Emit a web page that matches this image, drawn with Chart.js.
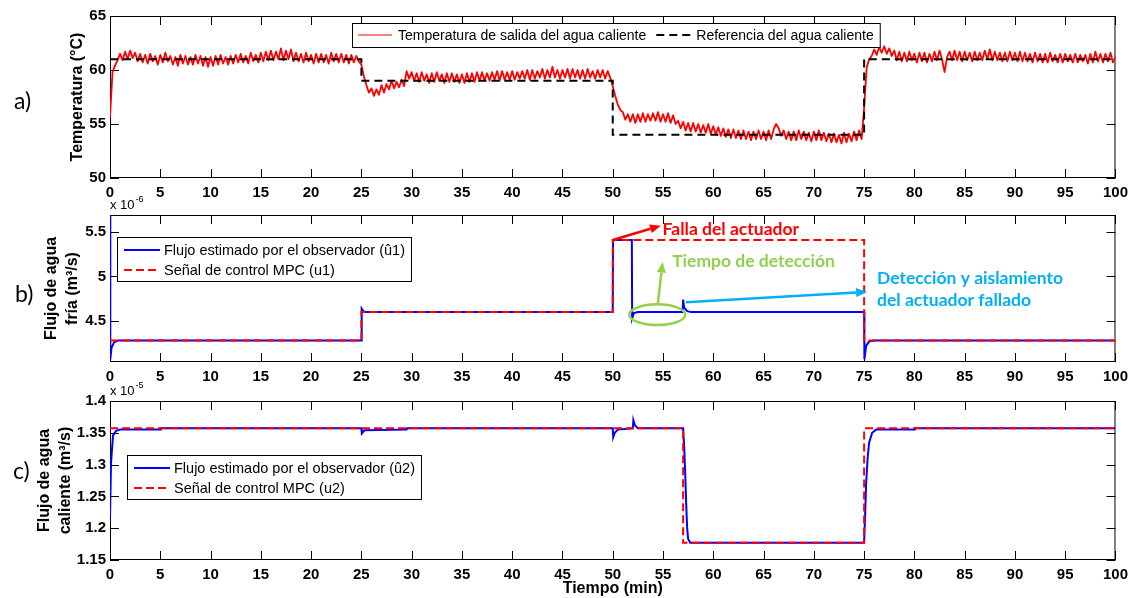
<!DOCTYPE html>
<html>
<head>
<meta charset="utf-8">
<script src="https://cdn.jsdelivr.net/npm/chart.js@4.4.0/dist/chart.umd.min.js"></script>
<style>
  body { margin: 0; background: #fff; }
  #lienzo { position: relative; width: 1134px; height: 598px; overflow: hidden; }
  #lienzo canvas { position: absolute; left: 0; }
</style>
</head>
<body>
<div id="lienzo">
  <canvas id="panelA" width="1134" height="200" style="top:0px"></canvas>
  <canvas id="panelB" width="1134" height="198" style="top:186px"></canvas>
  <canvas id="panelC" width="1134" height="222" style="top:376px"></canvas>
</div>
<script>
// ---------- datos ----------
const ticksX = [0, 5, 10, 15, 20, 25, 30, 35, 40, 45, 50, 55, 60, 65, 70, 75, 80, 85, 90, 95, 100];
const ticksTemp = [50, 55, 60, 65];
const ticksU1 = [4.5, 5, 5.5];
const ticksU2 = [1.15, 1.2, 1.25, 1.3, 1.35, 1.4];

// a) temperatura, muestreada cada 0.25 min (una fila = 4 min)
const pasoTemp = 0.25;
const tempSalida = [
  55.6, 59.8, 60.4, 60.9,  61.5, 60.9, 61.7, 61.0,  61.8, 61.1, 61.6, 60.8,  61.5, 60.7, 61.4, 60.6,
  61.5, 60.8, 61.3, 60.5,  61.4, 60.7, 61.6, 60.8,  61.3, 60.5, 61.2, 60.4,  61.4, 60.6, 61.3, 60.5,
  61.2, 60.5, 61.4, 60.6,  61.3, 60.4, 61.2, 60.3,  61.2, 60.4, 61.3, 60.5,  61.4, 60.6, 61.2, 60.5,
  61.3, 60.6, 61.4, 60.7,  61.5, 60.7, 61.3, 60.6,  61.6, 60.8, 61.4, 60.7,  61.6, 60.8, 61.7, 60.9,
  61.8, 60.9, 61.7, 61.0,  62.0, 60.9, 61.8, 61.0,  61.9, 60.8, 61.6, 60.8,  61.5, 60.7, 61.6, 60.8,
  61.4, 60.6, 61.5, 60.7,  61.5, 60.7, 61.4, 60.6,  61.6, 60.8, 61.5, 60.7,  61.5, 60.7, 61.4, 60.6,
  61.4, 60.7, 61.3, 60.8,  60.5, 59.4, 58.6, 57.9,  58.3, 57.6, 58.2, 57.7,  58.6, 57.9, 58.7, 58.2,
  59.0, 58.3, 58.9, 58.4,  59.1, 58.5, 59.9, 59.2,  59.8, 59.0, 59.7, 58.9,  59.8, 59.0, 59.6, 58.8,
  59.7, 58.9, 59.8, 59.0,  59.6, 58.8, 59.7, 58.9,  59.7, 58.9, 59.6, 58.8,  59.6, 58.8, 59.7, 58.9,
  59.7, 58.9, 59.8, 59.0,  59.8, 59.0, 59.7, 59.0,  59.8, 59.1, 59.9, 59.0,  59.9, 59.1, 59.8, 59.1,
  59.9, 59.1, 59.8, 59.2,  59.9, 59.2, 60.0, 59.1,  60.0, 59.2, 59.9, 59.3,  60.1, 59.2, 60.0, 59.3,
  60.3, 59.3, 60.0, 59.2,  60.0, 59.3, 60.1, 59.2,  60.1, 59.3, 60.0, 59.2,  60.0, 59.2, 60.1, 59.3,
  59.9, 59.2, 60.0, 59.3,  60.0, 59.2, 59.9, 59.3,  58.5, 57.6, 56.8, 56.3,  56.1, 55.4, 55.9, 55.2,
  55.9, 55.1, 55.9, 55.2,  56.0, 55.2, 55.9, 55.3,  56.0, 55.3, 56.1, 55.2,  55.9, 55.2, 56.0, 55.1,
  55.8, 55.0, 55.3, 54.6,  55.2, 54.4, 55.1, 54.3,  55.1, 54.3, 55.0, 54.2,  54.9, 54.2, 55.0, 54.1,
  54.8, 54.0, 54.7, 53.9,  54.6, 53.8, 54.5, 53.7,  54.5, 53.7, 54.4, 53.6,  54.4, 53.6, 54.3, 53.5,
  54.3, 53.6, 54.4, 53.6,  54.3, 53.5, 54.4, 53.6,  54.5, 55.0, 54.6, 53.9,  54.4, 53.6, 54.3, 53.5,
  54.3, 53.5, 54.4, 53.6,  54.3, 53.5, 54.2, 53.4,  54.3, 53.5, 54.4, 53.5,  54.2, 53.4, 54.1, 53.3,
  54.1, 53.3, 54.0, 53.2,  54.2, 53.3, 54.1, 53.4,  54.3, 53.5, 54.4, 53.6,  56.5, 60.2, 61.0, 61.3,
  61.9, 61.4, 62.1, 61.6,  62.2, 61.5, 62.0, 61.3,  61.8, 60.9, 61.7, 60.8,  61.6, 60.8, 61.7, 60.9,
  61.5, 60.7, 61.6, 60.8,  61.6, 60.7, 61.5, 60.8,  61.7, 60.9, 61.8, 61.0,  59.8, 61.2, 61.7, 60.9,
  61.8, 60.9, 61.7, 60.8,  61.7, 60.9, 61.6, 60.8,  61.7, 60.9, 61.6, 60.9,  61.8, 61.0, 61.9, 60.9,
  61.7, 60.9, 61.6, 60.8,  61.6, 60.8, 61.7, 60.9,  61.6, 60.8, 61.7, 60.8,  61.6, 60.8, 61.5, 60.7,
  61.6, 60.8, 61.5, 60.7,  61.5, 60.7, 61.6, 60.8,  61.4, 60.7, 61.5, 60.7,  61.5, 60.8, 61.4, 60.7,
  61.5, 60.7, 61.4, 60.8,  61.4, 60.6, 61.5, 60.7,  61.7, 60.8, 61.5, 60.7,  61.5, 60.8, 61.6, 60.7,
  61.2
];
const tiempoRef = [0, 25, 25, 50, 50, 75, 75, 100];
const refTemp = [61, 61, 59, 59, 54, 54, 61, 61];

// b) flujo de agua fria (x 1e-6)
const tiempoMpc1 = [0, 25, 25, 50, 50, 75, 75, 100];
const mpcU1 = [4.28, 4.28, 4.6, 4.6, 5.41, 5.41, 4.28, 4.28];
const tiempoObs1 = [0, 0.03, 0.15, 0.4, 0.8, 25, 25.03, 25.2, 25.5, 50, 50.03, 51.9, 51.93, 52.1, 52.5,
  56.95, 57.0, 57.1, 57.4, 57.8, 75, 75.03, 75.2, 75.5, 76, 100];
const obsU1 = [5.75, 4.07, 4.2, 4.26, 4.28, 4.28, 4.64, 4.61, 4.6, 4.6, 5.41, 5.41, 4.53, 4.59, 4.6,
  4.6, 4.74, 4.65, 4.61, 4.6, 4.6, 4.07, 4.22, 4.27, 4.28, 4.28];

// c) flujo de agua caliente (x 1e-5)
const tiempoMpc2 = [0, 57, 57, 75, 75, 100];
const mpcU2 = [1.357, 1.357, 1.177, 1.177, 1.357, 1.357];
const tiempoObs2 = [0, 0.1, 0.3, 0.6, 1, 5, 5.05, 25, 25.05, 25.3, 29.5, 29.55, 50, 50.05, 50.2, 50.5,
  52, 52.05, 52.2, 52.5, 57, 57.1, 57.2, 57.3, 57.4, 57.5, 57.7, 75, 75.1, 75.2, 75.35, 75.5, 75.8, 76.2,
  80, 80.05, 100];
const obsU2 = [1.215, 1.302, 1.346, 1.353, 1.355, 1.355, 1.357, 1.357, 1.349, 1.354, 1.355, 1.357, 1.357, 1.343, 1.35, 1.355,
  1.357, 1.37, 1.362, 1.357, 1.357, 1.33, 1.29, 1.24, 1.2, 1.183, 1.177, 1.177, 1.22, 1.27, 1.31, 1.335, 1.35, 1.355,
  1.355, 1.357, 1.357];

const nombresA = ['Temperatura de salida del agua caliente', 'Referencia del agua caliente'];
const nombresB = ['Flujo estimado por el observador (û1)', 'Señal de control MPC (u1)'];
const nombresC = ['Flujo estimado por el observador (û2)', 'Señal de control MPC (u2)'];

// ---------- helpers ----------
const ARIAL = '"Liberation Sans", Arial, sans-serif';
const CALIBRI = 'Lato, "Open Sans", sans-serif';

function puntos(xs, ys) {
  return ys.map((v, i) => ({ x: xs[i], y: v }));
}

function aPixel(chart, p) {
  return [chart.scales.x.getPixelForValue(p[0]), chart.scales.y.getPixelForValue(p[1])];
}

function flecha(ctx, a, b, color) {
  const ang = Math.atan2(b[1] - a[1], b[0] - a[0]);
  const L = 11, W = 4.5;
  const bx = b[0] - L * Math.cos(ang), by = b[1] - L * Math.sin(ang);
  ctx.strokeStyle = color;
  ctx.fillStyle = color;
  ctx.lineWidth = 2.5;
  ctx.beginPath();
  ctx.moveTo(a[0], a[1]);
  ctx.lineTo(bx, by);
  ctx.stroke();
  ctx.beginPath();
  ctx.moveTo(b[0], b[1]);
  ctx.lineTo(bx - W * Math.sin(ang), by + W * Math.cos(ang));
  ctx.lineTo(bx + W * Math.sin(ang), by - W * Math.cos(ang));
  ctx.closePath();
  ctx.fill();
}

function dibujarLeyenda(chart, ley) {
  const ctx = chart.ctx;
  const ds = chart.data.datasets;
  ctx.save();
  ctx.font = ley.fuente;
  ctx.textBaseline = 'middle';
  const anchos = ds.map(d => ctx.measureText(d.label).width);
  let w;
  if (ley.horizontal) {
    w = 6 + anchos.reduce((s, a) => s + ley.muestra + ley.hueco + a + 10, 0) - 4;
  } else {
    w = 7 + ley.muestra + ley.hueco + Math.max(...anchos) + 6;
  }
  const h = ley.alto;
  ctx.fillStyle = '#fff';
  ctx.fillRect(ley.x, ley.y, w, h);
  ctx.strokeStyle = '#000';
  ctx.lineWidth = 1;
  ctx.strokeRect(ley.x + 0.5, ley.y + 0.5, w, h);
  let cx = ley.x + 6;
  ds.forEach((d, i) => {
    const cy = ley.horizontal ? ley.y + h / 2 : ley.y + ley.fila0 + i * ley.paso;
    const x0 = ley.horizontal ? cx : ley.x + 7;
    ctx.strokeStyle = d.borderColor;
    ctx.lineWidth = d.borderDash ? 2 : (ley.horizontal ? 1 : 2);
    ctx.setLineDash(d.borderDash || []);
    ctx.beginPath();
    ctx.moveTo(x0, cy);
    ctx.lineTo(x0 + ley.muestra, cy);
    ctx.stroke();
    ctx.setLineDash([]);
    ctx.fillStyle = '#000';
    ctx.fillText(d.label, x0 + ley.muestra + ley.hueco, cy + 1);
    cx = x0 + ley.muestra + ley.hueco + anchos[i] + 10;
  });
  ctx.restore();
}

const decorado = {
  id: 'decorado',
  beforeDatasetsDraw(chart) {
    const { ctx, chartArea: a, scales: { x, y } } = chart;
    ctx.save();
    ctx.strokeStyle = '#000';
    ctx.lineWidth = 1;
    ctx.strokeRect(a.left + 0.5, a.top + 0.5, a.width - 1, a.height - 1);
    ctx.beginPath();
    x.ticks.forEach(t => {
      const px = Math.round(x.getPixelForValue(t.value)) + 0.5;
      ctx.moveTo(px, a.bottom); ctx.lineTo(px, a.bottom - 9);
      ctx.moveTo(px, a.top); ctx.lineTo(px, a.top + 9);
    });
    y.ticks.forEach(t => {
      const py = Math.round(y.getPixelForValue(t.value)) + 0.5;
      ctx.moveTo(a.left, py); ctx.lineTo(a.left + 9, py);
      ctx.moveTo(a.right, py); ctx.lineTo(a.right - 9, py);
    });
    ctx.stroke();
    ctx.restore();
  },
  afterDatasetsDraw(chart, args, opts) {
    const { ctx, chartArea: a } = chart;
    if (opts.leyenda) dibujarLeyenda(chart, opts.leyenda);
    ctx.save();
    // etiqueta del panel
    ctx.fillStyle = '#000';
    ctx.font = '23px ' + CALIBRI;
    ctx.textBaseline = 'middle';
    ctx.textAlign = 'left';
    ctx.fillText(opts.etiqueta[0], opts.etiqueta[1], opts.etiqueta[2]);
    // multiplicador de escala
    if (opts.exponente) {
      ctx.font = '13px ' + ARIAL;
      ctx.textBaseline = 'alphabetic';
      ctx.fillText('x 10', a.left, a.top - 6);
      const w = ctx.measureText('x 10').width;
      ctx.font = '9px ' + ARIAL;
      ctx.fillText(opts.exponente, a.left + w + 1, a.top - 13);
    }
    // anotaciones
    (opts.notas || []).forEach(n => {
      if (n.tipo === 'flecha') {
        flecha(ctx, aPixel(chart, n.desde), aPixel(chart, n.hasta), n.color);
      } else if (n.tipo === 'elipse') {
        const c = aPixel(chart, n.centro);
        const e = aPixel(chart, [n.centro[0] + n.radio[0], n.centro[1] + n.radio[1]]);
        ctx.strokeStyle = n.color;
        ctx.lineWidth = 2.5;
        ctx.beginPath();
        ctx.ellipse(c[0], c[1], Math.abs(e[0] - c[0]), Math.abs(c[1] - e[1]), 0, 0, Math.PI * 2);
        ctx.stroke();
      } else if (n.tipo === 'texto') {
        ctx.fillStyle = n.color;
        ctx.font = 'bold 17.5px ' + CALIBRI;
        ctx.textBaseline = 'middle';
        const p = aPixel(chart, n.pos);
        n.lineas.forEach((l, i) => ctx.fillText(l, p[0], p[1] + i * 22));
      }
    });
    ctx.restore();
  }
};

const fuenteTicks = { family: ARIAL, size: 15, weight: 'bold' };
const fuenteTitulo = { family: ARIAL, size: 16, weight: 'bold', lineHeight: 1.3 };

function crearPanel(id, datasets, cfg) {
  return new Chart(document.getElementById(id), {
    type: 'line',
    data: { datasets },
    options: {
      responsive: false,
      animation: false,
      events: [],
      layout: { padding: { top: cfg.arriba, right: 16, left: 0, bottom: 0 } },
      elements: { point: { radius: 0 }, line: { tension: 0 } },
      plugins: {
        legend: { display: false },
        tooltip: { enabled: false },
        decorado: cfg.decorado
      },
      scales: {
        x: {
          type: 'linear', min: 0, max: 100,
          grid: { display: false, drawTicks: false },
          border: { display: false },
          afterBuildTicks: s => { s.ticks = ticksX.map(v => ({ value: v })); },
          afterFit: s => { s.height = cfg.altoX; },
          ticks: { autoSkip: false, maxRotation: 0, padding: 6, color: '#000', font: fuenteTicks,
                   callback: v => String(v) },
          title: cfg.tituloX || { display: false }
        },
        y: {
          min: cfg.rango[0], max: cfg.rango[1],
          grid: { display: false, drawTicks: false },
          border: { display: false },
          afterBuildTicks: s => { s.ticks = cfg.ticksY.map(v => ({ value: v })); },
          afterFit: s => { s.width = 110; },
          ticks: { padding: 4, color: '#000', font: fuenteTicks, callback: v => String(v) },
          title: { display: true, text: cfg.tituloY, color: '#000', font: fuenteTitulo,
                   padding: { top: cfg.tituloPad, bottom: 0 } }
        }
      }
    },
    plugins: [decorado]
  });
}

// ---------- panel a) ----------
crearPanel('panelA', [
  { label: nombresA[0], data: puntos(tempSalida.map((_, i) => i * pasoTemp), tempSalida),
    borderColor: '#ff0000', borderWidth: 1.8, borderJoinStyle: 'round', order: 1 },
  { label: nombresA[1], data: puntos(tiempoRef, refTemp),
    borderColor: '#000000', borderWidth: 2, borderDash: [8, 5], order: 0 }
], {
  arriba: 16, altoX: 22, rango: [50, 65], ticksY: ticksTemp,
  tituloY: 'Temperatura (°C)', tituloPad: 67.6,
  decorado: {
    etiqueta: ['a)', 14, 102],
    leyenda: { x: 352, y: 23, alto: 24, horizontal: true, muestra: 34, hueco: 6, fuente: '14px ' + ARIAL }
  }
});

// ---------- panel b) ----------
crearPanel('panelB', [
  { label: nombresB[0], data: puntos(tiempoObs1, obsU1), borderColor: '#0000ff', borderWidth: 2, order: 1 },
  { label: nombresB[1], data: puntos(tiempoMpc1, mpcU1), borderColor: '#ff0000', borderWidth: 2,
    borderDash: [8, 4], order: 0 }
], {
  arriba: 29, altoX: 22, rango: [4.04, 5.69], ticksY: ticksU1,
  tituloY: ['Flujo de agua', 'fría (m³/s)'], tituloPad: 41.6,
  decorado: {
    etiqueta: ['b)', 15, 295 - 186],
    exponente: '-6',
    leyenda: { x: 117, y: 237 - 186, alto: 44, fila0: 13, paso: 20, muestra: 36, hueco: 4, fuente: '14.5px ' + ARIAL },
    notas: [
      { tipo: 'flecha', desde: [50.0, 5.41], hasta: [54.8, 5.57], color: '#ff0000' },
      { tipo: 'texto', pos: [54.96, 5.533], lineas: ['Falla del actuador'], color: '#ff0000' },
      { tipo: 'elipse', centro: [54.43, 4.571], radio: [2.78, 0.116], color: '#92d050' },
      { tipo: 'flecha', desde: [54.49, 4.70], hasta: [54.96, 5.166], color: '#92d050' },
      { tipo: 'texto', pos: [55.91, 5.174], lineas: ['Tiempo de detección'], color: '#92d050' },
      { tipo: 'flecha', desde: [57.27, 4.71], hasta: [75.3, 4.826], color: '#00b0f0' },
      { tipo: 'texto', pos: [76.29, 4.983], lineas: ['Detección y aislamiento', 'del actuador fallado'], color: '#00b0f0' }
    ]
  }
});

// ---------- panel c) ----------
crearPanel('panelC', [
  { label: nombresC[0], data: puntos(tiempoObs2, obsU2), borderColor: '#0000ff', borderWidth: 2, order: 1 },
  { label: nombresC[1], data: puntos(tiempoMpc2, mpcU2), borderColor: '#ff0000', borderWidth: 2,
    borderDash: [8, 4], order: 0 }
], {
  arriba: 25, altoX: 38, rango: [1.15, 1.4], ticksY: ticksU2,
  tituloY: ['Flujo de agua', 'caliente (m³/s)'], tituloPad: 34.6,
  tituloX: { display: true, text: 'Tiempo (min)', color: '#000',
             font: { family: ARIAL, size: 16, weight: 'bold', lineHeight: 1.2 }, padding: { top: 0, bottom: 0 } },
  decorado: {
    etiqueta: ['c)', 13, 472 - 376],
    exponente: '-5',
    leyenda: { x: 127, y: 455 - 376, alto: 44, fila0: 13, paso: 20, muestra: 36, hueco: 4, fuente: '14.5px ' + ARIAL }
  }
});
</script>
</body>
</html>
